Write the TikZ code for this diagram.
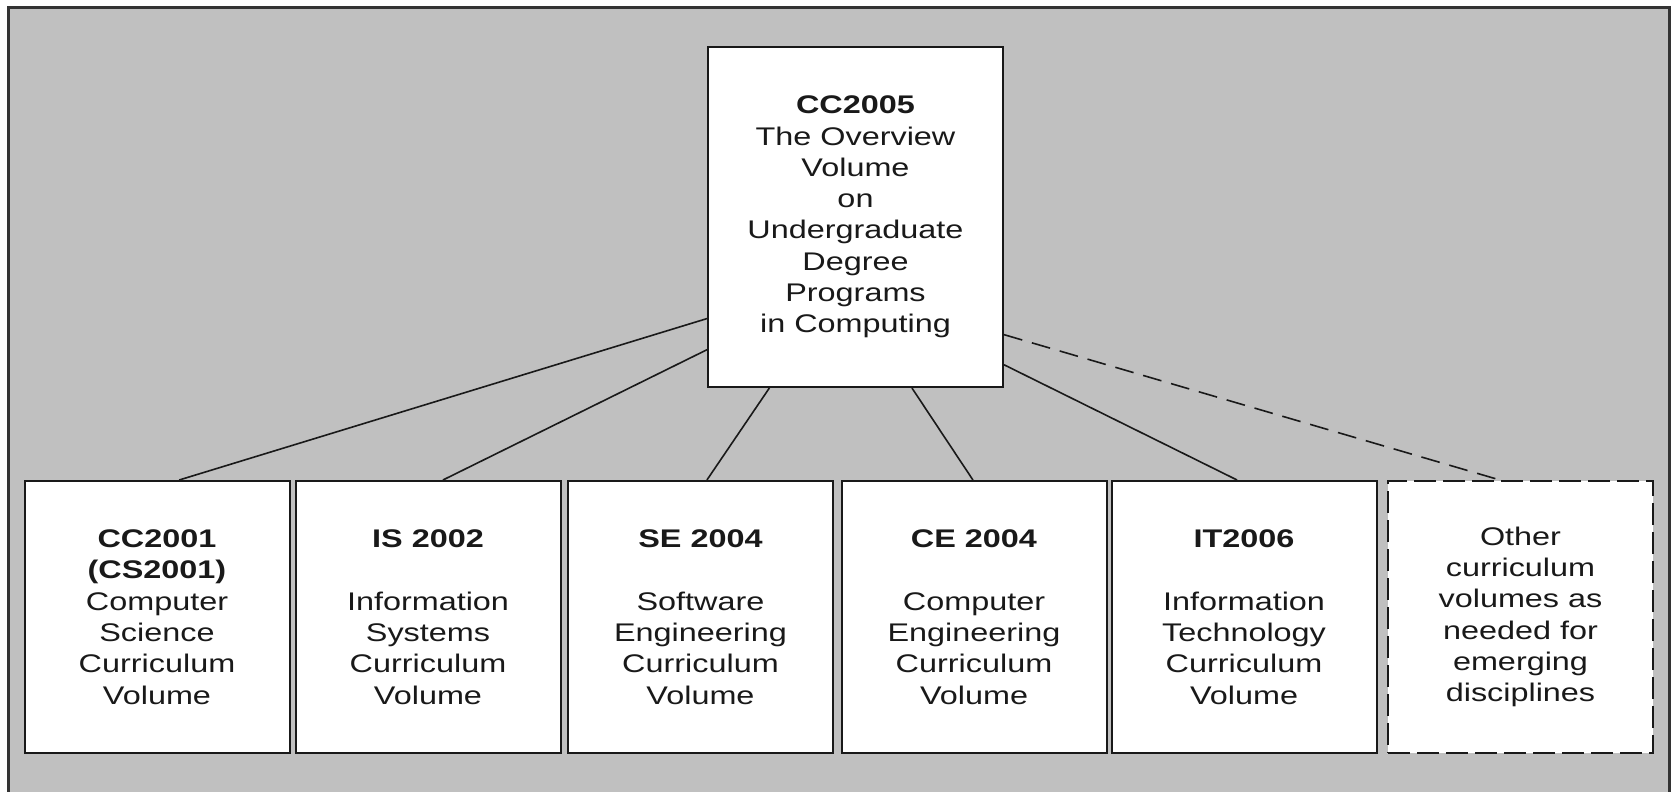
\documentclass[tikz,border=0pt]{standalone}
\usepackage{fontspec}
\setmainfont{Liberation Sans}[FakeStretch=1.27]
\usetikzlibrary{calc}

\definecolor{panel}{RGB}{192,192,192}
\definecolor{ink}{RGB}{25,25,25}

\begin{document}
\begin{tikzpicture}[x=1pt,y=-1pt,
  volbox/.style={draw=ink, line width=2pt, fill=white, inner sep=0pt,
    minimum width=265pt, minimum height=272pt, align=center, text=ink,
    font=\fontsize{25.5}{31.3}\selectfont},
  topbox/.style={volbox, minimum width=295pt, minimum height=340pt},
  futurebox/.style={volbox, dash pattern=on 22pt off 7pt},
  link/.style={draw=ink, line width=1.6pt},
  futurelink/.style={link, dash pattern=on 19pt off 10pt}]

\useasboundingbox (0,0) rectangle (1673,792);

% grey panel with its frame (open at the bottom edge)
\fill[panel] (8,8) rectangle (1669,792);
\draw[line width=3pt, black!80] (8,795) -- (8,8) -- (1669,8) -- (1669,795);

% overview volume
\node[topbox] (top) at (855.5,217) {\textbf{CC2005}\\The Overview\\Volume\\on\\Undergraduate\\Degree\\Programs\\in Computing};

% discipline volumes
\node[volbox] (b1) at (157,617)    {\textbf{CC2001}\\\textbf{(CS2001)}\\Computer\\Science\\Curriculum\\Volume};
\node[volbox] (b2) at (428,617)    {\textbf{IS 2002}\\[31.3pt]Information\\Systems\\Curriculum\\Volume};
\node[volbox] (b3) at (700.5,617)  {\textbf{SE 2004}\\[31.3pt]Software\\Engineering\\Curriculum\\Volume};
\node[volbox] (b4) at (974,617)    {\textbf{CE 2004}\\[31.3pt]Computer\\Engineering\\Curriculum\\Volume};
\node[volbox] (b5) at (1244,617)   {\textbf{IT2006}\\[31.3pt]Information\\Technology\\Curriculum\\Volume};
\node[futurebox] (b6) at (1520.5,617) {Other\\curriculum\\volumes as\\needed for\\emerging\\disciplines};

% connectors from the overview volume
\draw[link] ($(top.north west)!0.797!(top.south west)$) -- ($(b1.north west)!0.583!(b1.north east)$);
\draw[link] ($(top.north west)!0.888!(top.south west)$) -- ($(b2.north west)!0.556!(b2.north east)$);
\draw[link] ($(top.south west)!0.21!(top.south east)$) -- ($(b3.north west)!0.524!(b3.north east)$);
\draw[link] ($(top.south west)!0.69!(top.south east)$) -- ($(b4.north west)!0.496!(b4.north east)$);
\draw[link] ($(top.north east)!0.932!(top.south east)$) -- ($(b5.north west)!0.474!(b5.north east)$);
\draw[futurelink] ($(top.north east)!0.844!(top.south east)$) -- ($(b6.north west)!0.423!(b6.north east)$);
\end{tikzpicture}
\end{document}
